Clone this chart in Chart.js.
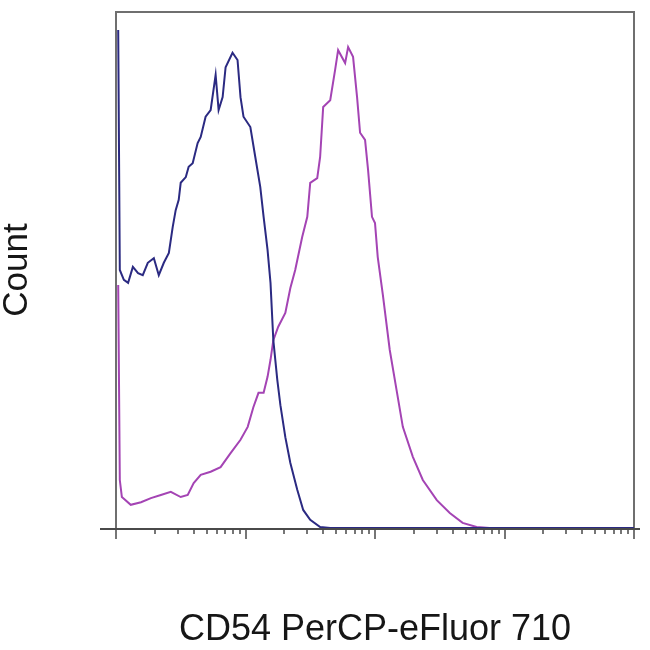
<!DOCTYPE html>
<html>
<head>
<meta charset="utf-8">
<script src="https://cdn.jsdelivr.net/npm/chart.js@4.4.0/dist/chart.umd.min.js"></script>
<style>
html,body{margin:0;padding:0;background:#ffffff;}
#wrap{width:650px;height:650px;}
</style>
</head>
<body>
<div id="wrap"><canvas id="c" width="650" height="650"></canvas></div>
<script>
// ---- data ----
const xAxisTitle = 'CD54 PerCP-eFluor 710';
const yAxisTitle = 'Count';
const seriesNames = ['Isotype control', 'CD54 PerCP-eFluor 710'];

// log-scale axis: decades and minor multipliers (no tick labels shown)
const majorTickValues = [1, 10, 100, 1000, 10000];
const minorMultipliers = [2, 3, 4, 5, 6, 7, 8, 9];

// isotype control (navy)
const blueX = [1.04,1.07,1.15,1.24,1.35,1.48,1.61,1.76,1.96,2.14,2.34,2.56,2.74,2.89,3.05,3.16,3.46,3.64,3.91,4.27,4.51,4.92,5.38,5.88,6.20,6.66,7.02,7.94,8.68,9.15,9.65,10.9,11.9,13.0,13.8,14.8,15.6,16.4,17.6,18.6,20.3,22.2,25.1,27.9,31.6,37.7,45.1,10000];
const blueY = [96.5,50.0,48.1,47.5,50.6,49.4,49.0,51.4,52.3,49.0,51.4,53.3,58.3,61.6,63.6,66.9,68.0,70.0,70.7,74.6,75.8,79.7,81.0,87.8,81.0,83.5,89.3,92.1,90.7,83.5,79.7,77.7,71.9,66.1,60.3,53.9,47.5,36.4,28.7,23.8,17.6,12.6,7.4,3.5,1.6,0.2,0,0];

// CD54 stained (magenta)
const magentaX = [1.04,1.07,1.11,1.30,1.56,1.86,2.22,2.65,3.16,3.58,3.98,4.51,5.38,6.42,7.67,9.15,10.4,11.5,12.6,13.8,14.8,15.6,16.4,17.9,20.3,22.2,24.2,27.4,30.0,31.6,35.8,37.7,39.8,45.1,49.2,51.9,58.8,62.0,67.7,72.7,76.7,83.8,88.4,94.8,100,105,115,130,148,164,196,234,300,378,475,609,767,10000];
const magentaY = [47.1,9.3,6.0,4.5,5.0,5.8,6.4,7.0,6.0,6.4,8.7,10.3,10.9,11.8,14.5,17.1,19.6,23.4,26.2,26.2,29.3,32.6,36.4,39.0,41.7,46.5,50.0,56.4,60.3,66.9,67.8,71.9,81.6,82.9,88.8,92.6,90.1,93.2,91.3,83.5,76.6,75.2,69.4,60.3,59.1,52.5,45.2,34.5,26.2,19.6,13.8,9.3,5.4,2.9,1.0,0.2,0,0];

const toPoints = (xs, ys) => xs.map((x, i) => ({x: x, y: ys[i]}));

const FONT = '"Liberation Sans", Arial, Helvetica, sans-serif';

const frameBehind = {
  id: 'frameBehind',
  beforeDatasetsDraw(chart) {
    const {ctx, chartArea: a} = chart;
    ctx.save();
    ctx.strokeStyle = '#6f6f6f';
    ctx.lineWidth = 2;
    ctx.beginPath();
    ctx.moveTo(a.left, a.bottom);
    ctx.lineTo(a.left, a.top);
    ctx.lineTo(a.right, a.top);
    ctx.lineTo(a.right, a.bottom);
    ctx.stroke();
    ctx.restore();
  }
};

const axisTicks = {
  id: 'axisTicks',
  afterDatasetsDraw(chart) {
    const {ctx, chartArea: a, scales: {x}} = chart;
    ctx.save();
    ctx.strokeStyle = '#4a4a4a';
    ctx.lineWidth = 2;
    ctx.beginPath();
    ctx.moveTo(a.left - 16, a.bottom + 1);
    ctx.lineTo(a.right + 6, a.bottom + 1);
    ctx.stroke();
    ctx.lineWidth = 1.5;
    ctx.beginPath();
    majorTickValues.forEach(v => {
      const px = Math.round(x.getPixelForValue(v));
      ctx.moveTo(px, a.bottom + 1);
      ctx.lineTo(px, a.bottom + 11);
    });
    majorTickValues.slice(0, -1).forEach(d => {
      minorMultipliers.forEach(m => {
        const px = Math.round(x.getPixelForValue(d * m));
        ctx.moveTo(px, a.bottom + 1);
        ctx.lineTo(px, a.bottom + 6);
      });
    });
    ctx.stroke();
    ctx.restore();
  }
};

new Chart(document.getElementById('c'), {
  type: 'line',
  data: {
    datasets: [
      {label: seriesNames[0], data: toPoints(blueX, blueY), borderColor: '#2b2a82', borderWidth: 2, pointRadius: 0, tension: 0, fill: false, clip: 6},
      {label: seriesNames[1], data: toPoints(magentaX, magentaY), borderColor: '#a444b4', borderWidth: 2, pointRadius: 0, tension: 0, fill: false, clip: 6}
    ]
  },
  options: {
    responsive: false,
    animation: false,
    devicePixelRatio: 1,
    layout: {padding: {top: 12, right: 16, left: 0, bottom: 0}},
    plugins: {legend: {display: false}, tooltip: {enabled: false}},
    scales: {
      x: {
        type: 'logarithmic', min: 1, max: 10000,
        ticks: {display: false}, grid: {display: false}, border: {display: false},
        title: {display: true, text: xAxisTitle, color: '#161616', font: {family: FONT, size: 36, lineHeight: 1}, padding: {top: 0, bottom: 2}},
        afterFit(s) { s.height = 122; }
      },
      y: {
        type: 'linear', min: 0, max: 100,
        ticks: {display: false}, grid: {display: false}, border: {display: false},
        title: {display: true, text: yAxisTitle, color: '#161616', font: {family: FONT, size: 35, lineHeight: 1}, padding: {top: 0, bottom: 0}},
        afterFit(s) { s.width = 116; }
      }
    }
  },
  plugins: [frameBehind, axisTicks]
});
</script>
</body>
</html>
